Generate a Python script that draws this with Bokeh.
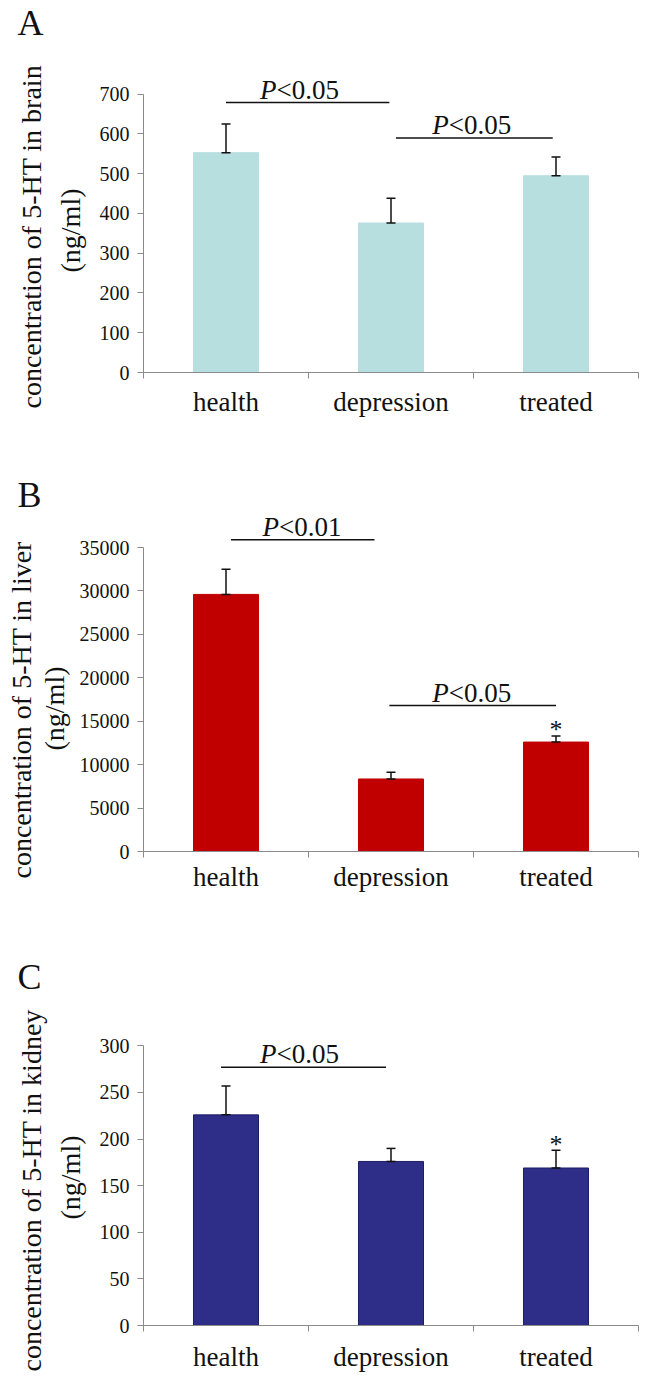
from bokeh.plotting import figure
from bokeh.models import Range1d, FixedTicker, ColumnDataSource, Whisker, TeeHead, Title
from bokeh.layouts import column
from bokeh.embed import file_html
from bokeh.resources import INLINE
from bokeh.core.properties import value

# ---------------- data ----------------
categories = ["health", "depression", "treated"]

brain_mean = [553, 376, 495]
brain_err = [72, 62, 47]
liver_mean = [29600, 8350, 12600]
liver_err = [2900, 760, 700]
kidney_mean = [226, 176, 169]
kidney_err = [31, 14, 19]

brain_ticks = [0, 100, 200, 300, 400, 500, 600, 700]
liver_ticks = [0, 5000, 10000, 15000, 20000, 25000, 30000, 35000]
kidney_ticks = [0, 50, 100, 150, 200, 250, 300]

brain_ylabel = ["concentration of 5-HT in brain", "(ng/ml)"]
liver_ylabel = ["concentration of 5-HT in liver", "(ng/ml)"]
kidney_ylabel = ["concentration of 5-HT in kidney", "(ng/ml)"]

# significance brackets (start/end in category units, y in data units)
brain_br_start = [0.50, 1.53]
brain_br_end = [1.49, 2.48]
brain_br_y = [679, 590]
brain_p = ["<0.05", "<0.05"]
brain_p_x = [0.945, 1.99]

liver_br_start = [0.53, 1.49]
liver_br_end = [1.40, 2.50]
liver_br_y = [35900, 16800]
liver_p = ["<0.01", "<0.05"]
liver_p_x = [0.96, 1.99]

kidney_br_start = [0.47]
kidney_br_end = [1.47]
kidney_br_y = [277]
kidney_p = ["<0.05"]
kidney_p_x = [0.945]

liver_star = [2]
kidney_star = [2]

SERIF = "Liberation Serif"
INK = "#111111"
AXIS = "#8a8a8a"


def panel(letter, means, errs, ticks, fill, edge, ylabels, ylab_off, br_s, br_e, br_y,
          ptxt, ptx, stars, height, top, bottom, y_end, cat_standoff, lab_standoffs):
    xs = [i + 0.5 for i in range(len(categories))]
    p = figure(width=646, height=height, x_range=Range1d(0, len(categories)),
               y_range=Range1d(0, y_end), output_backend="svg", toolbar_location=None,
               min_border_left=143, min_border_right=8, min_border_top=top,
               min_border_bottom=bottom, title=letter)
    p.title.text_font = SERIF
    p.title.text_font_size = "36px"
    p.title.text_font_style = "normal"
    p.title.text_color = INK
    p.title.align = "left"
    p.title.offset = -126
    p.title.standoff = 0
    p.outline_line_color = None
    p.xgrid.visible = False
    p.ygrid.visible = False

    p.vbar(x=xs, top=means, bottom=0, width=0.394, fill_color=fill, line_color=edge,
           line_width=1)

    src = ColumnDataSource(dict(x=xs, lower=means, upper=[m + e for m, e in zip(means, errs)]))
    w = Whisker(source=src, base="x", lower="lower", upper="upper", line_color=INK,
                line_width=1.5, level="annotation",
                upper_head=TeeHead(size=9, line_color=INK, line_width=1.5),
                lower_head=TeeHead(size=9, line_color=INK, line_width=1.5))
    p.add_layout(w)

    p.segment(x0=br_s, y0=br_y, x1=br_e, y1=br_y, line_color=INK, line_width=1.5)
    p.text(x=ptx, y=br_y, text=["P"] * len(ptx), text_font=value(SERIF),
           text_font_style="italic", text_font_size="27px", text_color=INK,
           text_align="right", text_baseline="alphabetic", x_offset=-23, y_offset=-13)
    p.text(x=ptx, y=br_y, text=ptxt, text_font=value(SERIF),
           text_font_style="normal", text_font_size="27px", text_color=INK,
           text_align="left", text_baseline="alphabetic", x_offset=-23, y_offset=-13)

    if stars:
        sx = [xs[i] for i in stars]
        sy = [means[i] + errs[i] for i in stars]
        p.text(x=sx, y=sy, text=["*"] * len(sx), text_font=value(SERIF),
               text_font_size="26px", text_color=INK, text_align="center",
               text_baseline="alphabetic", y_offset=-6)

    # y axis
    ya = p.yaxis[0]
    ya.ticker = FixedTicker(ticks=ticks)
    ya.bounds = (0, ticks[-1])
    ya.axis_line_color = AXIS
    ya.major_tick_line_color = AXIS
    ya.major_tick_out = 6
    ya.major_tick_in = 0
    ya.minor_tick_line_color = None
    ya.major_label_text_font = SERIF
    ya.major_label_text_font_size = "20px"
    ya.major_label_text_color = INK
    ya.major_label_standoff = 8

    # x axis
    xa = p.xaxis[0]
    xa.ticker = FixedTicker(ticks=xs, minor_ticks=list(range(len(categories) + 1)))
    xa.major_label_overrides = {x: c for x, c in zip(xs, categories)}
    xa.axis_line_color = AXIS
    xa.major_tick_line_color = None
    xa.major_tick_out = 0
    xa.major_tick_in = 0
    xa.minor_tick_line_color = AXIS
    xa.minor_tick_out = 6
    xa.minor_tick_in = 0
    xa.major_label_text_font = SERIF
    xa.major_label_text_font_size = "27px"
    xa.major_label_text_color = INK
    xa.major_label_standoff = cat_standoff

    # y-axis title, two lines (second line nearest the axis); offset = start above frame bottom
    for txt, off, so in zip(reversed(ylabels), reversed(ylab_off), lab_standoffs):
        t = Title(text=txt, align="left", offset=off, standoff=so,
                  text_font=SERIF, text_font_size="28px", text_font_style="normal",
                  text_color=INK)
        p.add_layout(t, "left")
    return p


pa = panel("A", brain_mean, brain_err, brain_ticks, "#b8dfe0", "#b8dfe0", brain_ylabel,
           [-36, 100], brain_br_start, brain_br_end, brain_br_y, brain_p, brain_p_x, [],
           460, 39, 88, 830, 8, [21, -8])
pb = panel("B", liver_mean, liver_err, liver_ticks, "#c00000", "#c00000", liver_ylabel,
           [-27, 101], liver_br_start, liver_br_end, liver_br_y, liver_p, liver_p_x,
           liver_star, 440, 54, 49, 38800, 4, [13, -12])
pc = panel("C", kidney_mean, kidney_err, kidney_ticks, "#2e2d88", "#1e1e66", kidney_ylabel,
           [-46, 106], kidney_br_start, kidney_br_end, kidney_br_y, kidney_p, kidney_p_x,
           kidney_star, 474, 96, 48, 353, 10, [21, -8])

layout = column(pa, pb, pc, spacing=0)
open("out.html", "w").write(file_html(layout, INLINE))
